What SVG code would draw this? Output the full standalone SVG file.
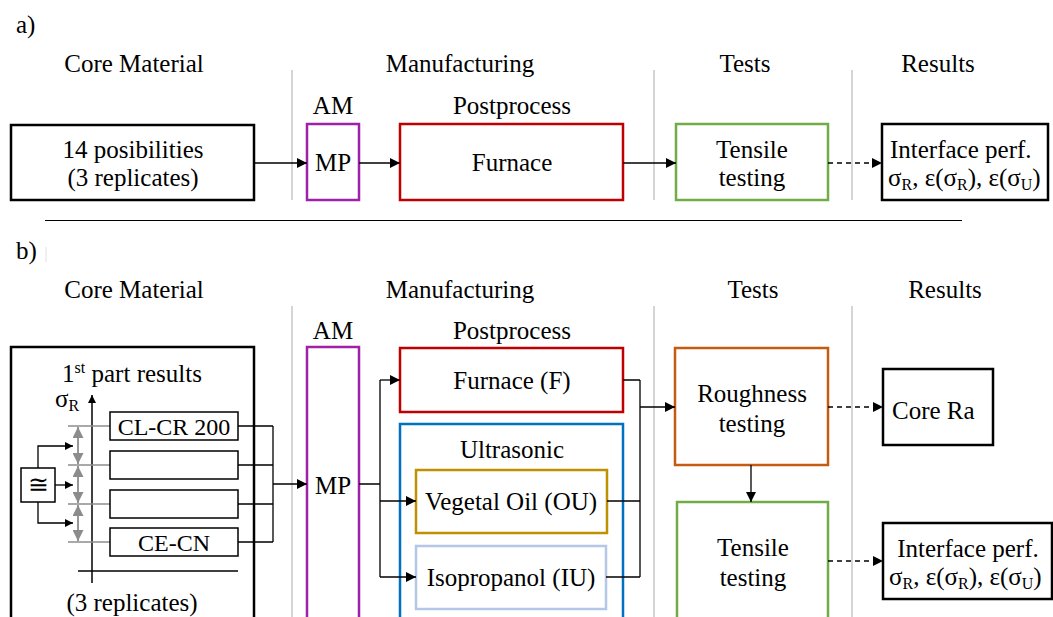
<svg xmlns="http://www.w3.org/2000/svg" width="1053" height="617" viewBox="0 0 1053 617">
<style>
text{font-family:"Liberation Serif","DejaVu Serif",serif;font-size:25px;fill:#000}
.c{text-anchor:middle}
.sub{font-size:16px}
.sm{font-size:24px}
.box{fill:#fff;stroke-width:2.5}
.sep{stroke:#bfbfbf;stroke-width:1.3}
.ln{fill:none;stroke:#000;stroke-width:1.3}
.ga{fill:none;stroke:#8c8c8c;stroke-width:1.8}
</style>
<defs>
<marker id="ah" viewBox="0 0 10 10" refX="10" refY="5" markerWidth="10" markerHeight="10" markerUnits="userSpaceOnUse" orient="auto"><path d="M0,0 L10,5 L0,10 z" fill="#000"/></marker>
<marker id="ahs" viewBox="0 0 10 10" refX="10" refY="5" markerWidth="8" markerHeight="8" markerUnits="userSpaceOnUse" orient="auto"><path d="M0,0 L10,5 L0,10 z" fill="#000"/></marker>
<marker id="ga" viewBox="0 0 10 10" refX="10" refY="5" markerWidth="11" markerHeight="11" markerUnits="userSpaceOnUse" orient="auto-start-reverse"><path d="M0,0 L10,5 L0,10 z" fill="#8c8c8c"/></marker>
</defs>

<!-- Panel a -->
<g id="labels-a">
<text x="16" y="33">a)</text>
<text class="c" x="134" y="72">Core Material</text>
<text class="c" x="460" y="72">Manufacturing</text>
<text class="c" x="745" y="72">Tests</text>
<text class="c" x="938" y="72">Results</text>
<text class="c" x="333" y="114">AM</text>
<text class="c" x="512" y="114">Postprocess</text>
</g>
<g id="separators-a">
<line class="sep" x1="292" y1="70" x2="292" y2="200"/>
<line class="sep" x1="654" y1="70" x2="654" y2="200"/>
<line class="sep" x1="852" y1="70" x2="852" y2="200"/>
<line x1="45" y1="220.5" x2="962" y2="220.5" stroke="#000" stroke-width="1"/>
</g>
<g id="a-core"><rect class="box" x="11" y="125" width="243" height="75" stroke="#000"/>
<text class="c" x="133" y="158">14 posibilities</text><text class="c" x="133" y="186">(3 replicates)</text></g>
<g id="a-mp"><rect class="box" x="307" y="124" width="52" height="76" stroke="#a020a8"/><text class="c" x="333" y="171">MP</text></g>
<g id="a-furnace"><rect class="box" x="400" y="124" width="223" height="76" stroke="#c00000"/><text class="c" x="512" y="171">Furnace</text></g>
<g id="a-tensile"><rect class="box" x="676" y="124" width="152" height="76" stroke="#70ad47"/><text class="c" x="752" y="158">Tensile</text><text class="c" x="752" y="186">testing</text></g>
<g id="a-results"><rect class="box" x="882" y="124" width="166" height="76" stroke="#000"/>
<text x="890" y="158">Interface perf.</text>
<text x="888" y="186">σ<tspan class="sub" dy="4">R</tspan><tspan dy="-4">, ε(σ</tspan><tspan class="sub" dy="4">R</tspan><tspan dy="-4">), ε(σ</tspan><tspan class="sub" dy="4">U</tspan><tspan dy="-4">)</tspan></text></g>
<g id="connectors-a">
<line class="ln" x1="254" y1="163" x2="307" y2="163" marker-end="url(#ah)"/>
<line class="ln" x1="359" y1="163" x2="400" y2="163" marker-end="url(#ah)"/>
<line class="ln" x1="623" y1="163" x2="676" y2="163" marker-end="url(#ah)"/>
<line class="ln" x1="828" y1="163" x2="882" y2="163" stroke-dasharray="5,4" marker-end="url(#ah)"/>
</g>

<!-- Panel b -->
<g id="labels-b">
<text x="16" y="259">b)</text>
<line x1="46" y1="247" x2="46" y2="262" stroke="#e0e0e0" stroke-width="1"/>
<text class="c" x="134" y="298">Core Material</text>
<text class="c" x="460" y="298">Manufacturing</text>
<text class="c" x="753" y="298">Tests</text>
<text class="c" x="945" y="298">Results</text>
<text class="c" x="333" y="339">AM</text>
<text class="c" x="512" y="339">Postprocess</text>
</g>
<g id="separators-b">
<line class="sep" x1="292" y1="306" x2="292" y2="617"/>
<line class="sep" x1="654" y1="306" x2="654" y2="617"/>
<line class="sep" x1="852" y1="306" x2="852" y2="617"/>
</g>

<g id="b-core">
<rect class="box" x="11" y="347" width="243" height="290" stroke="#000"/>
<text class="c" x="132" y="382">1<tspan class="sub" dy="-9">st</tspan><tspan dy="9"> part results</tspan></text>
<text x="55" y="407">σ<tspan class="sub" dy="4">R</tspan></text>
<line x1="92" y1="583" x2="92" y2="395" stroke="#000" stroke-width="1.5" marker-end="url(#ahs)"/>
<line x1="78" y1="571" x2="238" y2="571" stroke="#000" stroke-width="1.3"/>
<g stroke="#8c8c8c" stroke-width="1.5">
<line x1="68" y1="426" x2="110" y2="426"/><line x1="68" y1="465" x2="110" y2="465"/>
<line x1="68" y1="504" x2="110" y2="504"/><line x1="68" y1="542" x2="110" y2="542"/>
</g>
<line class="ga" x1="78" y1="427" x2="78" y2="464" marker-start="url(#ga)" marker-end="url(#ga)"/>
<line class="ga" x1="78" y1="466" x2="78" y2="503" marker-start="url(#ga)" marker-end="url(#ga)"/>
<line class="ga" x1="78" y1="505" x2="78" y2="541" marker-start="url(#ga)" marker-end="url(#ga)"/>
<rect x="21" y="468" width="34" height="34" fill="#fff" stroke="#000" stroke-width="1.5"/>
<text class="c" x="38" y="493">≅</text>
<path class="ln" d="M55,485 H73" marker-end="url(#ahs)"/>
<path class="ln" d="M38,468 V446 H73" marker-end="url(#ahs)"/>
<path class="ln" d="M38,502 V523 H73" marker-end="url(#ahs)"/>
<rect x="110" y="412" width="128" height="28" fill="#fff" stroke="#000" stroke-width="1.5"/>
<text class="c sm" x="174" y="435">CL-CR 200</text>
<rect x="110" y="451" width="128" height="28" fill="#fff" stroke="#000" stroke-width="1.5"/>
<rect x="110" y="490" width="128" height="28" fill="#fff" stroke="#000" stroke-width="1.5"/>
<rect x="110" y="528" width="128" height="28" fill="#fff" stroke="#000" stroke-width="1.5"/>
<text class="c sm" x="174" y="551">CE-CN</text>
<text class="c" x="132" y="611">(3 replicates)</text>
</g>
<g id="b-mp"><rect class="box" x="307" y="347" width="52" height="290" stroke="#a020a8"/><text class="c" x="333" y="494">MP</text></g>
<g id="b-furnace"><rect class="box" x="400" y="348" width="223" height="64" stroke="#c00000"/><text class="c" x="512" y="389">Furnace (F)</text></g>
<g id="b-ultrasonic"><rect class="box" x="400" y="424" width="223" height="213" stroke="#0070c0"/><text class="c" x="512" y="458">Ultrasonic</text></g>
<g id="b-oil"><rect class="box" x="416" y="470" width="191" height="63" stroke="#bf9000"/><text class="c" x="511" y="510">Vegetal Oil (OU)</text></g>
<g id="b-iso"><rect class="box" x="416" y="546" width="190" height="63" stroke="#b4c7e7"/><text class="c" x="511" y="586">Isopropanol (IU)</text></g>
<g id="b-rough"><rect class="box" x="675" y="348" width="153" height="117" stroke="#c55a11"/><text class="c" x="752" y="402">Roughness</text><text class="c" x="752" y="432">testing</text></g>
<g id="b-tensile"><rect class="box" x="677" y="502" width="151" height="135" stroke="#70ad47"/><text class="c" x="753" y="556">Tensile</text><text class="c" x="753" y="586">testing</text></g>
<g id="b-corera"><rect class="box" x="883" y="369" width="110" height="76" stroke="#000"/><text x="892" y="419">Core Ra</text></g>
<g id="b-results"><rect class="box" x="883" y="523" width="169" height="76" stroke="#000"/>
<text class="c" x="968" y="557">Interface perf.</text>
<text x="889" y="585">σ<tspan class="sub" dy="4">R</tspan><tspan dy="-4">, ε(σ</tspan><tspan class="sub" dy="4">R</tspan><tspan dy="-4">), ε(σ</tspan><tspan class="sub" dy="4">U</tspan><tspan dy="-4">)</tspan></text></g>

<g id="connectors-b">
<path class="ln" d="M238,426 H273 M238,465 H273 M238,504 H273 M238,542 H273 M273,426 V542"/>
<line class="ln" x1="273" y1="484" x2="307" y2="484" marker-end="url(#ah)"/>
<path class="ln" d="M359,484 H380 M380,380 V577"/>
<line class="ln" x1="380" y1="380" x2="400" y2="380" marker-end="url(#ah)"/>
<line class="ln" x1="380" y1="501" x2="416" y2="501" marker-end="url(#ah)"/>
<line class="ln" x1="380" y1="577" x2="416" y2="577" marker-end="url(#ah)"/>
<path class="ln" d="M623,380 H640 M607,501 H640 M606,577 H640 M640,380 V577"/>
<line class="ln" x1="640" y1="407" x2="675" y2="407" marker-end="url(#ah)"/>
<line class="ln" x1="751" y1="465" x2="751" y2="502" marker-end="url(#ah)"/>
<line class="ln" x1="828" y1="407" x2="883" y2="407" stroke-dasharray="5,4" marker-end="url(#ah)"/>
<line class="ln" x1="828" y1="561" x2="883" y2="561" stroke-dasharray="5,4" marker-end="url(#ah)"/>
</g>
</svg>
